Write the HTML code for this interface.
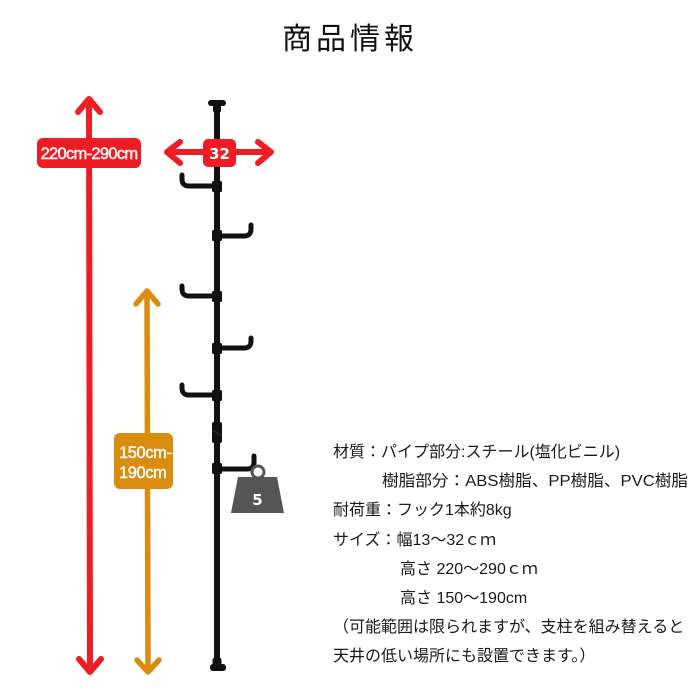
<!DOCTYPE html>
<html><head><meta charset="utf-8">
<style>
html,body{margin:0;padding:0;background:#fff;}
svg{display:block;}
.t{font-family:"Liberation Sans","Noto Sans CJK JP",sans-serif;font-size:16px;fill:#1a1a1a;}
</style></head>
<body>
<svg width="700" height="700" viewBox="0 0 700 700" xmlns="http://www.w3.org/2000/svg">
<rect width="700" height="700" fill="#fff"/>
<!-- Title -->
<text x="350" y="49" text-anchor="middle" font-family="'Noto Sans CJK JP',sans-serif" font-size="30" font-weight="400" letter-spacing="4" fill="#111">商品情報</text>

<!-- Red vertical arrow -->
<g stroke="#ee1c24" stroke-width="6" fill="none" stroke-linecap="round" stroke-linejoin="round">
<line x1="89" y1="100" x2="90" y2="670"/>
<polyline points="78,112 89,99 100,112"/>
<polyline points="79,659 90,672 101,659"/>
</g>
<rect x="37" y="138" width="104" height="30" rx="6" fill="#ee1c24"/>
<text x="89" y="159" text-anchor="middle" font-family="'Liberation Sans',sans-serif" font-size="16.5" letter-spacing="-0.7" fill="#fff" stroke="#fff" stroke-width="0.45">220cm-290cm</text>

<!-- Orange vertical arrow -->
<g stroke="#d98c0d" stroke-width="5.5" fill="none" stroke-linecap="round" stroke-linejoin="round">
<line x1="147" y1="293" x2="148" y2="670"/>
<polyline points="136,304 147,291 158,304"/>
<polyline points="137,660 148,672 159,660"/>
</g>
<rect x="114" y="433" width="59" height="56" rx="6" fill="#d98c0d"/>
<text x="119" y="458" font-family="'Liberation Sans',sans-serif" font-size="16.5" letter-spacing="-0.4" fill="#fff" stroke="#fff" stroke-width="0.4">150cm-</text>
<text x="119" y="478" font-family="'Liberation Sans',sans-serif" font-size="16.5" letter-spacing="-0.4" fill="#fff" stroke="#fff" stroke-width="0.4">190cm</text>

<!-- Pole -->
<g fill="#111">
<rect x="208" y="100" width="18" height="6" rx="3"/>
<rect x="213" y="104" width="8" height="8" rx="1"/>
<rect x="214" y="105" width="6" height="562"/>
<rect x="210" y="664" width="16" height="7" rx="3"/>
<rect x="212.5" y="658" width="9" height="8" rx="2"/>
<!-- joint -->
<rect x="212" y="422" width="10" height="21" rx="2"/>
<line x1="212" y1="430" x2="222" y2="436" stroke="#333" stroke-width="1"/>
<!-- collars -->
<rect x="212" y="181" width="10" height="11" rx="1.5"/>
<rect x="212" y="230" width="10" height="11" rx="1.5"/>
<rect x="212" y="291" width="10" height="11" rx="1.5"/>
<rect x="212" y="343" width="10" height="11" rx="1.5"/>
<rect x="212" y="390" width="10" height="11" rx="1.5"/>
<rect x="212" y="463" width="10" height="11" rx="1.5"/>
</g>
<g stroke="#111" stroke-width="5" fill="none" stroke-linecap="round" stroke-linejoin="round">
<path d="M214 186 L189 186 Q182 186 182 179 L182 175"/>
<path d="M220 236 L244 236 Q251 236 251 229 L251 225"/>
<path d="M214 296 L189 296 Q182 296 182 289 L182 286"/>
<path d="M220 348 L244 348 Q251 348 251 341 L251 338"/>
<path d="M214 395 L189 395 Q182 395 182 388 L182 385"/>
<path d="M220 469 L247 469 Q254 469 254 462 L254 456"/>
</g>

<!-- Red horizontal arrow -->
<g stroke="#ee1c24" stroke-width="6" fill="none" stroke-linecap="round" stroke-linejoin="round">
<line x1="168" y1="152" x2="270" y2="152"/>
<polyline points="180,142 167,152 180,163"/>
<polyline points="258,142 271,152 258,163"/>
</g>
<rect x="203" y="139" width="33" height="28" rx="5" fill="#ee1c24"/>
<text x="219.5" y="159" text-anchor="middle" font-family="'DejaVu Sans',sans-serif" font-weight="bold" font-size="15" fill="#fff">32</text>

<!-- Weight -->
<circle cx="258" cy="472" r="6" fill="none" stroke="#555" stroke-width="3"/>
<polygon points="238,477 277,477 284,513 231,513" fill="#555"/>
<text x="257.5" y="505" text-anchor="middle" font-family="'DejaVu Sans',sans-serif" font-weight="bold" font-size="15" fill="#fff">5</text>

<!-- Spec text -->
<text class="t" x="333" y="457">材質：パイプ部分:スチール(塩化ビニル)</text>
<text class="t" x="382" y="486" textLength="306" lengthAdjust="spacingAndGlyphs">樹脂部分：ABS樹脂、PP樹脂、PVC樹脂</text>
<text class="t" x="333" y="515">耐荷重：フック1本約8kg</text>
<text class="t" x="333" y="545">サイズ：幅13〜32ｃｍ</text>
<text class="t" x="400" y="574">高さ 220〜290ｃｍ</text>
<text class="t" x="400" y="603">高さ 150〜190cm</text>
<text class="t" x="333" y="632">（可能範囲は限られますが、支柱を組み替えると</text>
<text class="t" x="333" y="661">天井の低い場所にも設置できます。）</text>
</svg>
</body></html>
